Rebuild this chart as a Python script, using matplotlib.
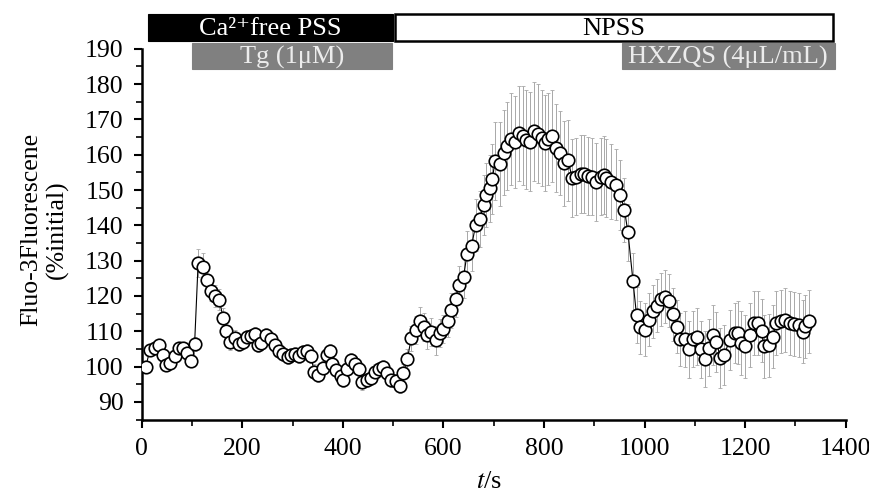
import matplotlib
matplotlib.use("Agg")
import matplotlib.pyplot as plt
from matplotlib.patches import Rectangle
from matplotlib.ticker import MultipleLocator

plt.rcParams['font.family'] = ['Liberation Serif', 'DejaVu Serif']
plt.rcParams['mathtext.fontset'] = 'stix'

# time (s), fluorescence (% initial), error
t = [8, 16, 26, 34, 42, 49, 57, 66, 74, 82, 90, 97, 105, 112, 121, 129, 137, 145, 154, 162,
     168, 176, 185, 193, 201, 209, 218, 225, 231, 237, 248, 257, 264, 272, 281, 290, 296, 304, 312, 321,
     329, 336, 343, 351, 361, 369, 374, 378, 387, 396, 400, 409, 417, 425, 433, 438, 447, 455, 463, 472,
     480, 488, 496, 505, 513, 520, 528, 536, 545, 553, 561, 567, 576, 585, 593, 600, 609, 616, 624, 631,
     640, 647, 656, 664, 672, 680, 685, 692, 697, 703, 712, 720, 727, 735, 743, 750, 758, 765, 773, 781,
     788, 796, 801, 808, 815, 823, 831, 840, 848, 856, 864, 873, 879, 887, 895, 904, 913, 919, 924, 934,
     944, 952, 960, 967, 977, 984, 990, 1000, 1009, 1017, 1025, 1033, 1041, 1049, 1057, 1064, 1070, 1080, 1088, 1096,
     1104, 1113, 1121, 1128, 1136, 1143, 1151, 1159, 1169, 1179, 1186, 1192, 1200, 1209, 1218, 1225, 1233, 1237, 1247, 1255,
     1262, 1271, 1279, 1289, 1298, 1308, 1315, 1319, 1328]
fluo = [100, 104.7, 105.2, 106.1, 103.3, 100.5, 101, 103, 105.2, 105.2, 103.8, 101.7, 106.4, 129.3, 128.2, 124.6, 121.5, 120, 118.9, 113.7,
        110.2, 107.1, 108, 106.4, 107.1, 108.5, 108.7, 109.3, 106.1, 106.6, 109, 107.8, 106.1, 104.3, 103.6, 102.8, 103.3, 103.6, 103, 104,
        104.5, 103, 98.6, 97.6, 99.5, 103.3, 104.5, 100.8, 99.1, 97.4, 96.2, 99.3, 101.9, 100.8, 99.3, 95.5, 96.2, 96.7, 98.6, 99.3,
        100, 98.3, 96.2, 95.8, 94.5, 98.1, 102.1, 108, 110.4, 113, 111.3, 109, 109.9, 107.4, 109.5, 110.6, 113, 115.9, 119.1, 123.1,
        125.5, 131.9, 134.2, 140.1, 141.8, 145.8, 148.6, 150.5, 153.1, 158.3, 157.4, 160.6, 162.5, 164.4, 163.5, 166.1, 165.4, 164.2, 163.7, 166.6,
        165.9, 164.7, 163.3, 164.4, 165.2, 161.9, 160.5, 157.6, 158.4, 153.4, 153.8, 154.6, 154.6, 154, 153.8, 152.2, 153.8, 154.3, 153.4, 152.4,
        151.5, 148.6, 144.4, 138, 124.1, 114.6, 111.2, 110.4, 113.2, 115.6, 117.2, 119.1, 119.8, 118.6, 114.8, 111.3, 107.8, 107.8, 104.9, 107.8,
        108.5, 104.9, 102.1, 105.4, 108.9, 107, 102.4, 103.3, 107.6, 109.6, 109.6, 106.6, 105.7, 109, 112.3, 112.3, 110.2, 105.7, 106, 108.5,
        112.3, 112.8, 113.2, 112.3, 112, 111.8, 109.9, 111.4, 112.8]
err = [1.5, 1.5, 1.5, 1.5, 1.5, 1.5, 1.5, 1.5, 1.5, 1.5, 1.5, 1.5, 2, 4, 4, 3, 3, 3, 3, 3,
       2.5, 2.5, 2.5, 2, 2, 2, 2, 2, 2, 2, 2, 2, 2, 2, 2, 2, 2, 2, 2, 2,
       2, 2, 2, 2, 2, 2, 2, 2, 2, 2, 2, 2, 2, 2, 2, 2, 2, 2, 2, 2,
       2, 2, 2, 2, 2, 2.5, 3, 3.5, 4, 4, 4, 4, 4, 4, 4, 4, 4.5, 5, 5, 5.5,
       6, 6.5, 7, 7.5, 8, 8.5, 9, 9.5, 10, 11, 12, 12, 12.5, 13, 13, 13.5, 14, 14, 14, 14,
       14, 13.5, 13.5, 13, 13, 12.5, 12, 12, 11.5, 11, 11, 11, 11, 11, 11, 11, 11, 11, 11, 10.5,
       10, 10, 9, 8, 8, 8, 7.5, 7.5, 7.5, 7.5, 7.5, 7.5, 7.5, 7.5, 7.5, 7.5, 7.5, 8, 8, 8,
       8, 8, 8, 8, 8.5, 8.5, 8.5, 8.5, 8.5, 8.5, 9, 9, 9, 9, 9, 9, 9, 9, 9, 9,
       9, 9, 9, 9, 9, 9, 9, 9, 9]

# treatment bars
bar_labels = ["Ca\u00b2\u207afree PSS", "NPSS", "Tg (1\u03bcM)", "HXZQS (4\u03bcL/mL)"]
bar_start = [12, 503, 99, 955]
bar_end = [499, 1374, 497, 1378]

fig = plt.figure(figsize=(8.7, 4.93), dpi=100)
ax = fig.add_axes([0.163, 0.149, 0.809, 0.752])

ax.errorbar(t, fluo, yerr=err, fmt='none', ecolor='#a8a8a8', elinewidth=0.7, capsize=1.5, capthick=0.6, zorder=1)
ax.plot(t, fluo, '-', color='black', lw=0.8, zorder=2)
ax.plot(t, fluo, 'o', ms=9, mfc='white', mec='black', mew=1.2, zorder=3)

ax.set_xlim(0, 1400)
ax.set_ylim(85, 190)
ax.set_xticks(range(0, 1401, 200))
ax.set_yticks(range(90, 191, 10))
ax.xaxis.set_minor_locator(MultipleLocator(100))
ax.yaxis.set_minor_locator(MultipleLocator(5))
ax.tick_params(which='major', direction='out', length=6, width=1.5, labelsize=18.5, pad=7)
ax.tick_params(which='minor', direction='out', length=4, width=1.2)
for side in ['top', 'right']:
    ax.spines[side].set_visible(False)
for side in ['left', 'bottom']:
    ax.spines[side].set_linewidth(1.8)

# bars on top, x in data, y in axes fraction
tr = ax.get_xaxis_transform()
styles = [('black', 'black', 'white', 1.02, 0.075),
          ('white', 'black', 'black', 1.02, 0.075),
          ('#808080', '#808080', '#ececec', 0.945, 0.072),
          ('#808080', '#808080', '#ececec', 0.945, 0.072)]
for lab, s, e, (fc, ec, tc, y0, h) in zip(bar_labels, bar_start, bar_end, styles):
    ax.add_patch(Rectangle((s, y0), e - s, h, transform=tr, facecolor=fc, edgecolor=ec,
                           lw=1.8 if fc == 'white' else 0.8, clip_on=False, zorder=5))
    ax.text((s + e) / 2, y0 + h / 2 - 0.004, lab, transform=tr, ha='center', va='center',
            color=tc, fontsize=19, zorder=6, clip_on=False)

fig.text(0.051, 0.535, "Fluo-3Fluorescene\n(%initial)", rotation=90, ha='center', va='center',
         fontsize=18.5, linespacing=1.2)
fig.text(0.562, 0.022, "$t$/s", ha='center', va='center', fontsize=19)

fig.savefig("out.png", dpi=100)
